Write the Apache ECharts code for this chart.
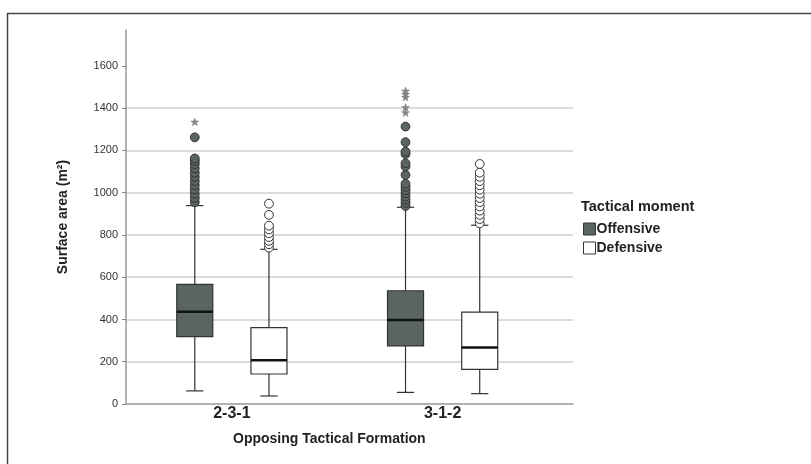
<!DOCTYPE html>
<html>
<head>
<meta charset="utf-8">
<script src="https://cdn.jsdelivr.net/npm/echarts@6/dist/echarts.min.js"></script>
<style>
html,body{margin:0;padding:0;background:#fff;}
#chart{width:811px;height:464px;}
</style>
</head>
<body>
<div id="chart"></div>
<script>
// ---- data ----
const categories = ['2-3-1', '3-1-2'];
const yTicks = [0, 200, 400, 600, 800, 1000, 1200, 1400, 1600];
// [min, Q1, median, Q3, max] per category
const offensiveBox = [
  [62, 319, 437, 566, 939],
  [55, 275, 398, 536, 931]
];
const defensiveBox = [
  [38, 142, 207, 361, 732],
  [49, 164, 267, 435, 846]
];
// outliers (circles)
const offensiveOut231 = [955, 975, 995, 1015, 1035, 1055, 1075, 1095, 1115, 1135, 1150, 1162, 1262];
const offensiveOut312 = [937, 952, 967, 982, 997, 1012, 1027, 1042, 1084, 1124, 1139, 1183, 1194, 1239, 1313];
const defensiveOut231 = [740, 756, 772, 790, 808, 826, 844, 895, 948];
const defensiveOut312 = [855, 875, 895, 915, 935, 955, 975, 995, 1015, 1035, 1055, 1075, 1095, 1136];
// extreme outliers (stars)
const offensiveExt231 = [1335];
const offensiveExt312 = [1379, 1404, 1452, 1467, 1482];
const defensiveExt231 = [];
const defensiveExt312 = [];

const Y_MAX = 1770;
const OFF_FILL = '#5b655f';
const EDGE = '#333';
const FONT = 'Liberation Sans, Arial, sans-serif';

function boxData(arr) { return arr.map((b, i) => [i].concat(b)); }
function outData(lists, extLists) {
  const out = [];
  lists.forEach((l, i) => l.forEach(v => out.push([i, v, 0])));
  extLists.forEach((l, i) => l.forEach(v => out.push([i, v, 1])));
  return out;
}

function boxRender(offsetFrac, fill) {
  return function (params, api) {
    const ci = api.value(0);
    const band = api.size([1, 0])[0];
    const cx = api.coord([ci, 0])[0] + offsetFrac * band;
    const w = band * 0.171;
    const capW = w * 0.48;
    const yMin = api.coord([ci, api.value(1)])[1];
    const yQ1 = api.coord([ci, api.value(2)])[1];
    const yMed = api.coord([ci, api.value(3)])[1];
    const yQ3 = api.coord([ci, api.value(4)])[1];
    const yMax = api.coord([ci, api.value(5)])[1];
    const ls = { stroke: EDGE, lineWidth: 1.2 };
    return {
      type: 'group',
      children: [
        { type: 'line', shape: { x1: cx, y1: yMin, x2: cx, y2: yQ1 }, style: ls },
        { type: 'line', shape: { x1: cx, y1: yQ3, x2: cx, y2: yMax }, style: ls },
        { type: 'line', shape: { x1: cx - capW / 2, y1: yMin, x2: cx + capW / 2, y2: yMin }, style: ls },
        { type: 'line', shape: { x1: cx - capW / 2, y1: yMax, x2: cx + capW / 2, y2: yMax }, style: ls },
        { type: 'rect', shape: { x: cx - w / 2, y: yQ3, width: w, height: yQ1 - yQ3 }, style: { fill: fill, stroke: EDGE, lineWidth: 1.2 } },
        { type: 'line', shape: { x1: cx - w / 2, y1: yMed, x2: cx + w / 2, y2: yMed }, style: { stroke: '#111', lineWidth: 2.5 } }
      ]
    };
  };
}

const STAR = 'M0,-1 L0.2245,-0.309 L0.951,-0.309 L0.363,0.118 L0.588,0.809 L0,0.382 L-0.588,0.809 L-0.363,0.118 L-0.951,-0.309 L-0.2245,-0.309 Z';

function outRender(offsetFrac, fill) {
  return function (params, api) {
    const ci = api.value(0);
    const band = api.size([1, 0])[0];
    const cx = api.coord([ci, 0])[0] + offsetFrac * band;
    const cy = api.coord([ci, api.value(1)])[1];
    if (api.value(2) === 1) {
      return {
        type: 'path',
        shape: { pathData: STAR, x: cx - 4, y: cy - 4, width: 8, height: 8 },
        style: { fill: '#888', stroke: '#777', lineWidth: 0.5 }
      };
    }
    return {
      type: 'circle',
      shape: { cx: cx, cy: cy, r: 4.4 },
      style: { fill: fill, stroke: EDGE, lineWidth: 1 }
    };
  };
}

const chart = echarts.init(document.getElementById('chart'));
chart.setOption({
  animation: false,
  backgroundColor: '#fff',
  title: {
    text: 'Tactical moment',
    left: 581, top: 199,
    padding: 0,
    textStyle: { fontFamily: FONT, fontWeight: 'bold', fontSize: 14.5, color: '#222' }
  },
  legend: {
    orient: 'vertical',
    left: 583, top: 222,
    padding: 0,
    itemGap: 5,
    itemWidth: 12, itemHeight: 12,
    icon: 'rect',
    textStyle: { fontFamily: FONT, fontWeight: 'bold', fontSize: 14, color: '#222', padding: [0, 0, 0, -4] },
    data: [
      { name: 'Offensive', itemStyle: { color: OFF_FILL, borderColor: EDGE, borderWidth: 1 } },
      { name: 'Defensive', itemStyle: { color: '#fff', borderColor: EDGE, borderWidth: 1 } }
    ]
  },
  grid: [
    { left: 126, right: 238, top: 30, bottom: 60 },
    { left: 126.5, right: 263, top: 30, bottom: 60 }
  ],
  xAxis: [
    {
      gridIndex: 0, type: 'value', min: 0, max: 1,
      axisLine: { show: true, lineStyle: { color: '#999', width: 1.5 } },
      axisTick: { show: false }, axisLabel: { show: false }, splitLine: { show: false }
    },
    {
      gridIndex: 1, type: 'category', data: categories,
      axisLine: { show: false }, axisTick: { show: false }, splitLine: { show: false },
      axisLabel: { margin: 2, fontFamily: FONT, fontWeight: 'bold', fontSize: 16, color: '#222' }
    }
  ],
  yAxis: [
    {
      gridIndex: 0, type: 'value', min: 0, max: Y_MAX, interval: 200,
      name: 'Surface area (m²)', nameLocation: 'middle', nameGap: 56, nameRotate: 90,
      nameTextStyle: { fontFamily: FONT, fontWeight: 'bold', fontSize: 14, color: '#222' },
      axisLine: { show: true, lineStyle: { color: '#999', width: 1.5 } },
      axisTick: { show: true, length: 4, customValues: yTicks, lineStyle: { color: '#888', width: 1 } },
      axisLabel: {
        margin: 8, fontFamily: FONT, fontSize: 11, color: '#333',
        customValues: yTicks,
        formatter: v => String(v)
      },
      splitLine: { show: true, showMinLine: false, showMaxLine: false, lineStyle: { color: '#cfcfcf', width: 1.5 } }
    },
    {
      gridIndex: 1, type: 'value', min: 0, max: Y_MAX, interval: 200,
      axisLine: { show: false }, axisTick: { show: false }, axisLabel: { show: false }, splitLine: { show: false }
    }
  ],
  graphic: [
    { type: 'line', shape: { x1: 7, y1: 13.5, x2: 811, y2: 13.5 }, style: { stroke: '#444', lineWidth: 1.5 } },
    { type: 'line', shape: { x1: 7.5, y1: 13, x2: 7.5, y2: 464 }, style: { stroke: '#444', lineWidth: 1.5 } },
    {
      type: 'text', left: 233, top: 432,
      style: { text: 'Opposing Tactical Formation', font: 'bold 14px Liberation Sans, Arial, sans-serif', fill: '#222' }
    }
  ],
  series: [
    {
      name: 'Offensive', type: 'custom', xAxisIndex: 1, yAxisIndex: 1,
      itemStyle: { color: OFF_FILL },
      encode: { x: 0, y: [1, 2, 3, 4, 5] },
      renderItem: boxRender(-0.176, OFF_FILL),
      data: boxData(offensiveBox)
    },
    {
      name: 'Defensive', type: 'custom', xAxisIndex: 1, yAxisIndex: 1,
      itemStyle: { color: '#fff' },
      encode: { x: 0, y: [1, 2, 3, 4, 5] },
      renderItem: boxRender(0.176, '#fff'),
      data: boxData(defensiveBox)
    },
    {
      name: 'Offensive', type: 'custom', xAxisIndex: 1, yAxisIndex: 1,
      encode: { x: 0, y: 1 },
      renderItem: outRender(-0.176, OFF_FILL),
      data: outData([offensiveOut231, offensiveOut312], [offensiveExt231, offensiveExt312])
    },
    {
      name: 'Defensive', type: 'custom', xAxisIndex: 1, yAxisIndex: 1,
      encode: { x: 0, y: 1 },
      renderItem: outRender(0.176, '#fff'),
      data: outData([defensiveOut231, defensiveOut312], [defensiveExt231, defensiveExt312])
    }
  ]
});
</script>
</body>
</html>
